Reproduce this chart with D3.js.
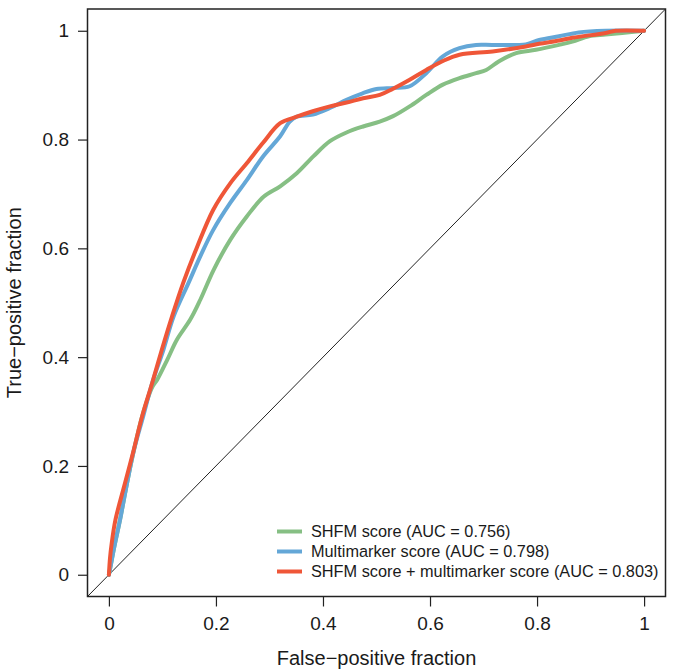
<!DOCTYPE html>
<html>
<head>
<meta charset="utf-8">
<script src="https://cdn.jsdelivr.net/npm/d3@7"></script>
<style>
  body { margin: 0; background: #fff; }
  svg { font-family: "Liberation Sans", Arial, sans-serif; }
</style>
</head>
<body>
<div class="container"></div>
<script>
// ROC curves
var shfmFpr = [0, 0.004, 0.009, 0.022, 0.034, 0.047, 0.062, 0.081, 0.09, 0.109, 0.127, 0.152, 0.171, 0.196, 0.227, 0.258, 0.289, 0.32, 0.351, 0.382, 0.413, 0.444, 0.475, 0.506, 0.531, 0.562, 0.593, 0.624, 0.655, 0.686, 0.705, 0.729, 0.761, 0.798, 0.841, 0.866, 0.897, 0.928, 0.959, 1];
var shfmTpr = [0, 0.02, 0.046, 0.107, 0.169, 0.23, 0.291, 0.345, 0.358, 0.395, 0.432, 0.469, 0.506, 0.561, 0.616, 0.659, 0.695, 0.714, 0.738, 0.769, 0.797, 0.813, 0.824, 0.833, 0.843, 0.861, 0.882, 0.901, 0.913, 0.922, 0.928, 0.944, 0.959, 0.965, 0.974, 0.98, 0.99, 0.993, 0.996, 1];

var multiFpr = [0, 0.004, 0.009, 0.022, 0.034, 0.047, 0.064, 0.081, 0.102, 0.121, 0.149, 0.172, 0.195, 0.227, 0.258, 0.288, 0.32, 0.338, 0.351, 0.381, 0.413, 0.444, 0.474, 0.5, 0.531, 0.562, 0.593, 0.624, 0.655, 0.686, 0.717, 0.779, 0.804, 0.841, 0.878, 0.928, 1];
var multiTpr = [0, 0.02, 0.046, 0.107, 0.169, 0.23, 0.291, 0.353, 0.414, 0.475, 0.537, 0.588, 0.634, 0.684, 0.726, 0.769, 0.806, 0.833, 0.842, 0.846, 0.858, 0.873, 0.885, 0.893, 0.895, 0.898, 0.922, 0.953, 0.968, 0.974, 0.974, 0.975, 0.983, 0.99, 0.997, 1, 1];

var combFpr = [0, 0.002, 0.005, 0.012, 0.03, 0.046, 0.062, 0.081, 0.099, 0.118, 0.139, 0.165, 0.195, 0.227, 0.258, 0.288, 0.32, 0.351, 0.381, 0.413, 0.444, 0.475, 0.506, 0.53, 0.562, 0.593, 0.623, 0.655, 0.717, 0.779, 0.804, 0.841, 0.866, 0.928, 0.947, 1];
var combTpr = [0, 0.03, 0.056, 0.1, 0.168, 0.228, 0.291, 0.353, 0.414, 0.475, 0.537, 0.603, 0.671, 0.72, 0.757, 0.794, 0.83, 0.842, 0.852, 0.861, 0.868, 0.876, 0.882, 0.893, 0.91, 0.928, 0.944, 0.956, 0.962, 0.971, 0.976, 0.982, 0.987, 0.996, 1, 1];

var seriesNames = ["SHFM score (AUC = 0.756)", "Multimarker score (AUC = 0.798)", "SHFM score + multimarker score (AUC = 0.803)"];
var seriesColors = ["#86bf84", "#64a7d7", "#ef5638"];
var tickValues = [0, 0.2, 0.4, 0.6, 0.8, 1];
var tickLabels = ["0", "0.2", "0.4", "0.6", "0.8", "1"];

var W = 675, H = 672;
var svg = d3.select('.container')
  .append('svg')
  .attr('width', W)
  .attr('height', H);

// plot region, R style with 4% padding
var x = d3.scaleLinear().domain([-0.04, 1.04]).range([87.5, 665.5]);
var y = d3.scaleLinear().domain([-0.04, 1.04]).range([596.5, 9]);

// diagonal reference line across the whole region
svg.append('line')
  .attr('x1', x(-0.04)).attr('y1', y(-0.04))
  .attr('x2', x(1.04)).attr('y2', y(1.04))
  .attr('stroke', '#222')
  .attr('stroke-width', 1);

var line = d3.line()
  .x(d => x(d[0]))
  .y(d => y(d[1]))
  .curve(d3.curveCatmullRom.alpha(0.5));

var curves = [
  d3.zip(shfmFpr, shfmTpr),
  d3.zip(multiFpr, multiTpr),
  d3.zip(combFpr, combTpr)
];

curves.forEach(function (pts, i) {
  svg.append('path')
    .datum(pts)
    .attr('d', line)
    .attr('fill', 'none')
    .attr('stroke', seriesColors[i])
    .attr('stroke-width', 4)
    .attr('stroke-linejoin', 'round')
    .attr('stroke-linecap', 'round');
});

// box
svg.append('rect')
  .attr('x', 87.5).attr('y', 9)
  .attr('width', 578).attr('height', 587.5)
  .attr('fill', 'none')
  .attr('stroke', '#222')
  .attr('stroke-width', 1.5);

// axes
var xAxis = svg.append('g')
  .attr('transform', 'translate(0,596.5)')
  .call(d3.axisBottom(x).tickValues(tickValues).tickFormat((d, i) => tickLabels[i]).tickSize(10).tickPadding(10));
var yAxis = svg.append('g')
  .attr('transform', 'translate(87.5,0)')
  .call(d3.axisLeft(y).tickValues(tickValues).tickFormat((d, i) => tickLabels[i]).tickSize(9.5).tickPadding(9));

[xAxis, yAxis].forEach(function (g) {
  g.select('.domain').remove();
  g.selectAll('.tick line').attr('stroke', '#222').attr('stroke-width', 1.2);
  g.selectAll('.tick text')
    .attr('fill', '#1a1a1a')
    .style('font-size', '19px')
    .style('font-family', '"Liberation Sans", Arial, sans-serif');
});

// axis titles
svg.append('text')
  .attr('x', (87.5 + 665.5) / 2)
  .attr('y', 665)
  .attr('text-anchor', 'middle')
  .attr('fill', '#1a1a1a')
  .style('font-size', '20px')
  .text('False\u2212positive fraction');

svg.append('text')
  .attr('transform', 'translate(21,' + (9 + 596.5) / 2 + ') rotate(-90)')
  .attr('text-anchor', 'middle')
  .attr('fill', '#1a1a1a')
  .style('font-size', '20px')
  .text('True\u2212positive fraction');

// legend
var legend = svg.append('g');
seriesNames.forEach(function (name, i) {
  var ly = 531.5 + i * 20;
  legend.append('line')
    .attr('x1', 277).attr('x2', 302)
    .attr('y1', ly).attr('y2', ly)
    .attr('stroke', seriesColors[i])
    .attr('stroke-width', 4);
  legend.append('text')
    .attr('x', 311)
    .attr('y', ly)
    .attr('dy', '0.36em')
    .attr('fill', '#1a1a1a')
    .style('font-size', '16.3px')
    .text(name);
});
</script>
</body>
</html>
